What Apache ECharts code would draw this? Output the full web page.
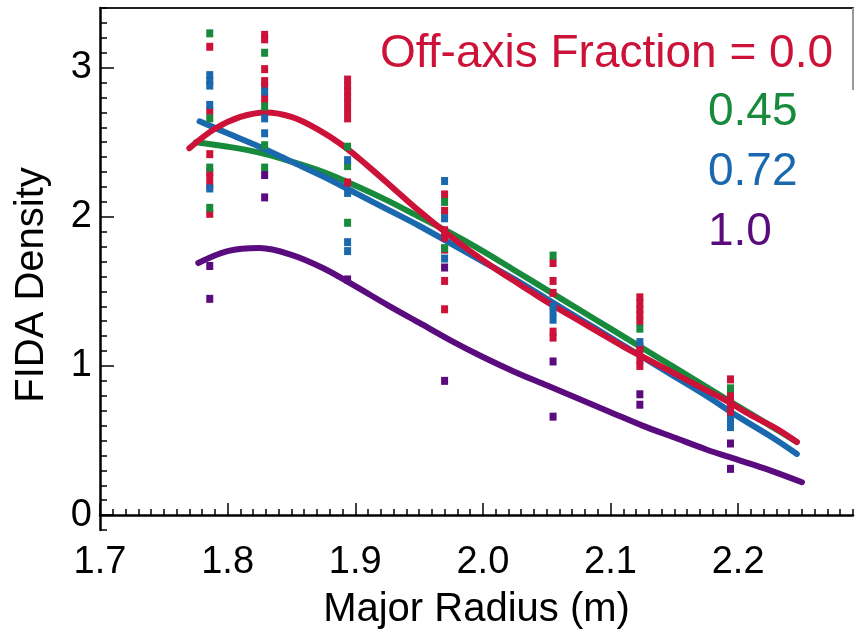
<!DOCTYPE html>
<html>
<head>
<meta charset="utf-8">
<script src="https://cdn.jsdelivr.net/npm/echarts@6/dist/echarts.min.js"></script>
<style>
  html, body { margin: 0; padding: 0; background: #fff; }
  #chart { width: 856px; height: 639px; }
</style>
</head>
<body>
<div id="chart"></div>
<script>
// major radius of each measurement column (m)
var radii = [1.786, 1.829, 1.894, 1.970, 2.055, 2.123, 2.194];

// measured FIDA density, one list per column, for each off-axis fraction
var meas00 = [
  [3.14, 2.71, 2.42, 2.30, 2.26, 2.21, 2.02],
  [3.22, 3.19, 2.99, 2.91, 2.88, 2.79],
  [2.92, 2.88, 2.84, 2.80, 2.76, 2.71, 2.66, 2.23],
  [2.15, 2.04, 1.91, 1.86, 1.78, 1.57, 1.38],
  [1.69, 1.57, 1.49, 1.23, 1.19],
  [1.46, 1.42, 1.38, 1.34, 1.30, 1.13, 1.09, 1.04, 1.00],
  [0.91, 0.81, 0.76, 0.72, 0.67]
];
var meas045 = [
  [3.23, 2.66, 2.33, 2.06],
  [3.10, 2.74, 2.48, 2.33],
  [2.47, 2.34, 1.96],
  [2.10, 1.79],
  [1.74],
  [1.25],
  [0.85]
];
var meas072 = [
  [2.95, 2.91, 2.88, 2.75, 2.19],
  [2.84, 2.66, 2.56],
  [2.38, 2.16, 1.83, 1.77],
  [2.24, 1.99, 1.72],
  [1.40, 1.36, 1.31],
  [1.16],
  [0.64, 0.59]
];
var meas10 = [
  [1.67, 1.45],
  [2.28, 2.13],
  [1.58],
  [1.66, 0.90],
  [1.03, 0.66],
  [0.81, 0.74],
  [0.48, 0.31]
];

// fitted profiles [R, density]
var fit00 = [[1.77, 2.46], [1.79, 2.59], [1.81, 2.67], [1.83, 2.70], [1.85, 2.67],
  [1.87, 2.59], [1.89, 2.48], [1.91, 2.34], [1.93, 2.19], [1.95, 2.04], [1.97, 1.90],
  [1.99, 1.77], [2.01, 1.65], [2.03, 1.54], [2.05, 1.43], [2.07, 1.33], [2.09, 1.23],
  [2.11, 1.13], [2.13, 1.04], [2.15, 0.95], [2.17, 0.86], [2.19, 0.77], [2.21, 0.67],
  [2.23, 0.58], [2.246, 0.49]];
var fit045 = [[1.775, 2.50], [1.80, 2.47], [1.825, 2.43], [1.85, 2.37], [1.875, 2.30],
  [1.90, 2.21], [1.925, 2.11], [1.95, 2.00], [1.975, 1.89], [2.00, 1.77], [2.025, 1.64],
  [2.05, 1.51], [2.075, 1.38], [2.10, 1.25], [2.125, 1.12], [2.15, 0.99], [2.175, 0.86],
  [2.20, 0.73], [2.225, 0.60], [2.246, 0.49]];
var fit072 = [[1.778, 2.64], [1.80, 2.56], [1.825, 2.47], [1.85, 2.37], [1.875, 2.27],
  [1.90, 2.16], [1.925, 2.05], [1.95, 1.94], [1.975, 1.82], [2.00, 1.70], [2.025, 1.58],
  [2.05, 1.45], [2.075, 1.32], [2.10, 1.19], [2.125, 1.06], [2.15, 0.93], [2.175, 0.80],
  [2.20, 0.66], [2.225, 0.53], [2.246, 0.41]];
var fit10 = [[1.777, 1.69], [1.80, 1.77], [1.825, 1.79], [1.85, 1.745], [1.875, 1.655],
  [1.90, 1.535], [1.925, 1.41], [1.95, 1.29], [1.975, 1.17], [2.00, 1.06], [2.025, 0.96],
  [2.05, 0.87], [2.075, 0.78], [2.10, 0.69], [2.125, 0.60], [2.15, 0.52], [2.175, 0.44],
  [2.20, 0.37], [2.225, 0.30], [2.25, 0.22]];

var xTicks = [1.7, 1.8, 1.9, 2.0, 2.1, 2.2];
var yTicks = [0, 1, 2, 3];

var colors = { f00: '#cc1238', f045: '#188a3c', f072: '#1a68ae', f10: '#5a0c7e' };

function toPoints(cols) {
  var out = [];
  cols.forEach(function (ys, i) {
    ys.forEach(function (y) { out.push([radii[i], y]); });
  });
  return out;
}

var chart = echarts.init(document.getElementById('chart'), null, { renderer: 'canvas' });

var font = 'Liberation Sans, Arial, Helvetica, sans-serif';
var xMin = 1.7, xMax = 2.29, yMin = -0.1, yMax = 3.4;

function fitLine(name, data, color) {
  return {
    name: name, type: 'line', data: data, smooth: 0.35,
    showSymbol: false, symbol: 'none',
    lineStyle: { color: color, width: 6, cap: 'round' }, z: 2, silent: true
  };
}
function dots(name, data, color) {
  return {
    name: name, type: 'scatter', data: toPoints(data),
    symbol: 'rect', symbolSize: [7, 8],
    itemStyle: { color: color, opacity: 1 }, z: 4, silent: true
  };
}

var option = {
  animation: false,
  backgroundColor: '#fff',
  grid: { left: 100, right: 3, top: 8, bottom: 109 },
  title: [
    { text: 'Off-axis Fraction = 0.0', right: 18, top: 26,
      textStyle: { color: colors.f00, fontSize: 46, fontWeight: 'normal', fontFamily: font } },
    { text: '0.45', left: 703, top: 84,
      textStyle: { color: colors.f045, fontSize: 46, fontWeight: 'normal', fontFamily: font } },
    { text: '0.72', left: 703, top: 144,
      textStyle: { color: colors.f072, fontSize: 46, fontWeight: 'normal', fontFamily: font } },
    { text: '1.0', left: 703, top: 204,
      textStyle: { color: colors.f10, fontSize: 46, fontWeight: 'normal', fontFamily: font } }
  ],
  xAxis: [
    {
      type: 'value', min: xMin, max: xMax, position: 'bottom',
      name: 'Major Radius (m)', nameLocation: 'middle', nameGap: 60,
      nameTextStyle: { fontSize: 40, color: '#000', fontFamily: font },
      axisLine: { show: true, lineStyle: { color: '#000', width: 2.5 } },
      axisTick: { show: true, inside: true, length: 12, customValues: xTicks,
        lineStyle: { color: '#000', width: 1.5 } },
      axisLabel: { customValues: xTicks, margin: 14, fontSize: 38, color: '#000', fontFamily: font,
        formatter: function (v) { return v.toFixed(1); } },
      splitLine: { show: false }
    },
    {
      type: 'value', min: xMin, max: xMax, position: 'bottom', interval: 0.01,
      axisLine: { show: false },
      axisTick: { show: true, inside: true, length: 6, lineStyle: { color: '#000', width: 1.5 } },
      axisLabel: { show: false }, splitLine: { show: false }
    },
    {
      type: 'value', min: xMin, max: xMax, position: 'top',
      axisLine: { show: true, lineStyle: { color: '#222', width: 2 } },
      axisTick: { show: false }, axisLabel: { show: false }, splitLine: { show: false }
    }
  ],
  yAxis: [
    {
      type: 'value', min: yMin, max: yMax, position: 'left',
      name: 'FIDA Density', nameLocation: 'middle', nameGap: 48, nameRotate: 90,
      nameTextStyle: { fontSize: 40, color: '#000', fontFamily: font, padding: [0, 32, 0, 0] },
      axisLine: { show: true, lineStyle: { color: '#000', width: 2.5 } },
      axisTick: { show: true, inside: true, length: 14, customValues: yTicks,
        lineStyle: { color: '#000', width: 1.5 } },
      axisLabel: { customValues: yTicks, margin: 8, fontSize: 38, color: '#000', fontFamily: font },
      splitLine: { show: false }
    },
    {
      type: 'value', min: yMin, max: yMax, position: 'left', interval: 0.1,
      axisLine: { show: false },
      axisTick: { show: true, inside: true, length: 7, lineStyle: { color: '#000', width: 1.5 } },
      axisLabel: { show: false }, splitLine: { show: false }
    }
  ],
  graphic: [
    { type: 'line', shape: { x1: 853, y1: 8, x2: 853, y2: 90 },
      style: { stroke: '#999', lineWidth: 2 }, z: 10 }
  ],
  series: [
    fitLine('1.0', fit10, colors.f10),
    fitLine('0.45', fit045, colors.f045),
    fitLine('0.72', fit072, colors.f072),
    fitLine('0.0', fit00, colors.f00),
    dots('0.0 data', meas00, colors.f00),
    dots('0.45 data', meas045, colors.f045),
    dots('0.72 data', meas072, colors.f072),
    dots('1.0 data', meas10, colors.f10)
  ]
};

chart.setOption(option);
</script>
</body>
</html>
